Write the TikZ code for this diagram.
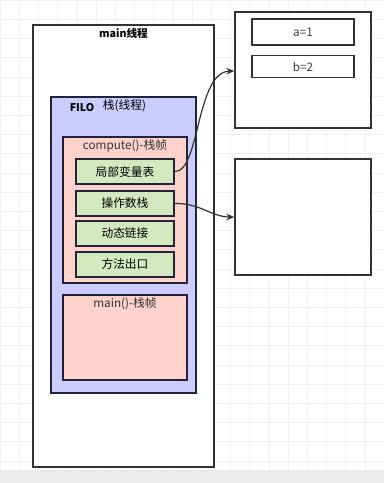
\documentclass[tikz,border=0pt]{standalone}
\usepackage{fontspec}
\setmainfont{Noto Sans CJK SC}
\usetikzlibrary{arrows.meta}
\definecolor{stackblue}{HTML}{CCCCFF}
\definecolor{framepink}{HTML}{FFD2CB}
\definecolor{slotgreen}{HTML}{D3E9BF}
\definecolor{edge}{HTML}{333333}
\definecolor{navy}{HTML}{22223A}
\begin{document}
\begin{tikzpicture}[x=0.75pt,y=-0.75pt,
  box/.style={draw=edge,line width=1.1pt},
  slot/.style={draw=navy,line width=1.1pt,fill=slotgreen,minimum width=73.5pt,minimum height=18.75pt,inner sep=0pt,font=\fontsize{8.8}{10}\selectfont},
  cell/.style={draw=edge,line width=1pt,fill=white,inner sep=0pt,minimum width=76.5pt,font=\fontsize{8.8}{10}\selectfont,text=black!75},
  lbl/.style={inner sep=0pt,font=\fontsize{8.8}{10}\selectfont},
  conn/.style={draw=edge,line width=0.9pt,-{Stealth[length=6pt,width=5pt]}}]
\useasboundingbox (0,0) rectangle (384,483);
\fill[white] (0,0) rectangle (384,483);
\foreach \gx in {0,19.2,...,384} \draw[black!6,line width=0.4pt] (\gx,0) -- (\gx,470);
\foreach \gy in {0,19.2,...,470} \draw[black!6,line width=0.4pt] (0,\gy) -- (384,\gy);
\fill[black!8] (0,470) rectangle (384,483);
% main thread
\node[box,fill=white,minimum width=135.75pt,minimum height=331.5pt,inner sep=0pt] (main) at (123.5,246) {};
\node[lbl,font=\bfseries\fontsize{8}{9}\selectfont] (maint) at (123.5,33) {main线程};
% stack
\node[draw=navy,line width=1.1pt,fill=stackblue,minimum width=108.75pt,minimum height=222pt,inner sep=0pt] (stack) at (123.5,245) {};
\node[lbl,font=\bfseries\fontsize{8}{9}\selectfont] (filo) at (82,108) {FILO};
\node[lbl] (stackt) at (124.5,106) {栈(线程)};
% compute frame
\node[draw=navy,line width=1.1pt,fill=framepink,minimum width=93pt,minimum height=109.5pt,inner sep=0pt] (comp) at (125,210) {};
\node[lbl,text=black!80] (compt) at (125,146) {compute()-栈帧};
\node[slot] (lv) at (125,171.5) {局部变量表};
\node[slot] (os) at (125,203.5) {操作数栈};
\node[slot] (dl) at (125,233.5) {动态链接};
\node[slot] (mx) at (125,264.5) {方法出口};
% main frame
\node[draw=navy,line width=1.1pt,fill=framepink,minimum width=93pt,minimum height=63.75pt,inner sep=0pt] (mframe) at (125,337.5) {};
\node[lbl,text=black!80] (mft) at (125,304) {main()-栈帧};
% heap boxes
\node[box,fill=white,minimum width=102pt,minimum height=87pt,inner sep=0pt] (h1) at (303,70) {};
\node[cell,minimum height=19.5pt] (a) at (303,32) {a=1};
\node[cell,minimum height=16.5pt] (b) at (303,66.5) {b=2};
\node[box,fill=white,minimum width=102pt,minimum height=87pt,inner sep=0pt] (h2) at (303,217) {};
% connectors
\draw[conn] (lv.east) .. controls (200,172) and (196,72) .. (h1.west |- 0,71);
\draw[conn] (os.east) .. controls (200,203) and (212,217) .. (h2.west);
\end{tikzpicture}
\end{document}
